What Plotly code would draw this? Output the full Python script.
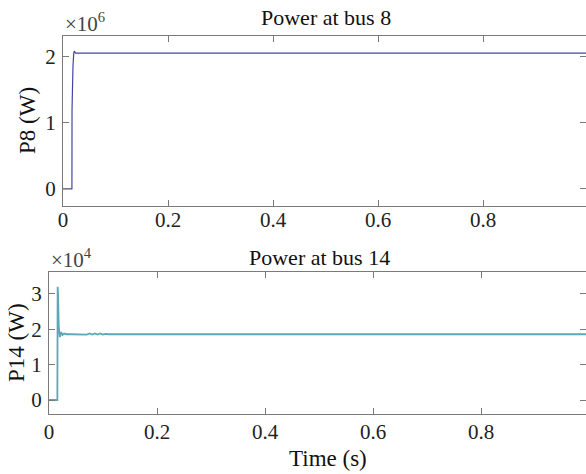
import plotly.graph_objects as go

# ---- data ----
t8 = [0, 0.0170, 0.0172, 0.0178, 0.0190, 0.0205, 0.0215, 0.0240, 0.0300, 1.0]
p8 = [0, 0, 1.2e6, 1.80e6, 1.86e6, 2.06e6, 2.09e6, 2.06e6, 2.06e6, 2.06e6]

t14 = [0, 0.0155, 0.0160, 0.0168, 0.0180, 0.0200, 0.0225, 0.0250, 0.0280, 0.0330,
       0.040, 0.050, 0.060, 0.070, 0.075, 0.080, 0.085, 0.090, 0.095, 0.100,
       0.105, 0.110, 1.0]
p14 = [0, 0, 3.20e4, 3.00e4, 2.10e4, 1.78e4, 1.92e4, 1.84e4, 1.88e4, 1.86e4,
       1.86e4, 1.86e4, 1.86e4, 1.85e4, 1.88e4, 1.85e4, 1.88e4, 1.85e4, 1.88e4, 1.85e4,
       1.87e4, 1.86e4, 1.86e4]

xticks = [0, 0.2, 0.4, 0.6, 0.8]
xticklabels = ["0", "0.2", "0.4", "0.6", "0.8"]
y8ticks = [0, 1e6, 2e6]
y8labels = ["0", "1", "2"]
y14ticks = [0, 1e4, 2e4, 3e4]
y14labels = ["0", "1", "2", "3"]

W, H = 586, 474
FONT = "Liberation Serif"
AX = "#7a7a7a"

# pixel layout
top_l, top_t, top_b = 63, 36, 206
bot_l, bot_t, bot_b = 49, 272, 414
top_px_per_unit = 525.0
bot_px_per_unit = 540.0

fig = go.Figure()
fig.add_trace(go.Scatter(x=t8, y=p8, mode="lines", xaxis="x", yaxis="y",
                         line=dict(color="#4545a0", width=1.2), showlegend=False))
fig.add_trace(go.Scatter(x=t8, y=p8, mode="lines", xaxis="x", yaxis="y3",
                         line=dict(width=0), opacity=0, showlegend=False, hoverinfo="skip"))
fig.add_trace(go.Scatter(x=t14, y=p14, mode="lines", xaxis="x2", yaxis="y2",
                         line=dict(color="#5ba8b6", width=1.8), showlegend=False))
fig.add_trace(go.Scatter(x=t14, y=p14, mode="lines", xaxis="x2", yaxis="y4",
                         line=dict(width=0), opacity=0, showlegend=False, hoverinfo="skip"))

tickfont = dict(family=FONT, size=21, color="#222222")

def xax(dom, rng, anchor, standoff):
    return dict(domain=dom, range=rng, anchor=anchor, tickvals=xticks, ticktext=xticklabels,
                ticks="inside", ticklen=6, tickcolor=AX, showline=True, linecolor=AX,
                linewidth=1, mirror="ticks", showgrid=False, zeroline=False,
                tickfont=tickfont, ticklabelstandoff=standoff, automargin=False)

def yax(dom, rng, anchor, tv, tt):
    return dict(domain=dom, range=rng, anchor=anchor, tickvals=tv, ticktext=tt,
                ticks="inside", ticklen=6, tickcolor=AX, showline=True, linecolor=AX,
                linewidth=1, mirror=False, showgrid=False, zeroline=False,
                tickfont=tickfont, ticklabelstandoff=2, automargin=False)

def yright(over, rng, anchor, tv):
    return dict(overlaying=over, side="right", range=rng, anchor=anchor, tickvals=tv,
                ticks="inside", ticklen=6, tickcolor=AX, showline=False,
                showticklabels=False, showgrid=False, zeroline=False, automargin=False)

top_xr = [0, (W - top_l) / top_px_per_unit]
bot_xr = [0, (W - bot_l) / bot_px_per_unit]
top_dom_x = [top_l / W, 1]
bot_dom_x = [bot_l / W, 1]
top_dom_y = [1 - top_b / H, 1 - top_t / H]
bot_dom_y = [1 - bot_b / H, 1 - bot_t / H]

top_yr = [-0.258e6, 2.318e6]
bot_yr = [-0.396e4, 3.62e4]

fig.update_layout(
    width=W, height=H, margin=dict(l=0, r=0, t=0, b=0, pad=0), autosize=False,
    paper_bgcolor="white", plot_bgcolor="white",
    font=dict(family=FONT, color="#111111"),
    xaxis=xax(top_dom_x, top_xr, "y", -5),
    yaxis=yax(top_dom_y, top_yr, "x", y8ticks, y8labels),
    xaxis2=xax(bot_dom_x, bot_xr, "y2", -1),
    yaxis2=yax(bot_dom_y, bot_yr, "x2", y14ticks, y14labels),
    yaxis3=yright("y", top_yr, "x", y8ticks),
    yaxis4=yright("y2", bot_yr, "x2", y14ticks),
)

ann_font = dict(family=FONT, size=22, color="#111111")
lab_font = dict(family=FONT, size=23, color="#111111")
fig.add_annotation(text="Power at bus 8", x=326 / W, y=1 - 18 / H, xref="paper", yref="paper",
                   showarrow=False, font=ann_font, xanchor="center", yanchor="middle")
fig.add_annotation(text="Power at bus 14", x=319 / W, y=1 - 257 / H, xref="paper", yref="paper",
                   showarrow=False, font=ann_font, xanchor="center", yanchor="middle")
fig.add_annotation(text="Time (s)", x=328 / W, y=1 - 458 / H, xref="paper", yref="paper",
                   showarrow=False, font=lab_font, xanchor="center", yanchor="middle")
fig.add_annotation(text="P8 (W)", x=27 / W, y=1 - 121 / H, xref="paper", yref="paper",
                   showarrow=False, font=lab_font, textangle=-90, xanchor="center", yanchor="middle")
fig.add_annotation(text="P14 (W)", x=16 / W, y=1 - 343 / H, xref="paper", yref="paper",
                   showarrow=False, font=lab_font, textangle=-90, xanchor="center", yanchor="middle")
fig.add_annotation(text="×10<sup>6</sup>", x=63 / W, y=1 - 38 / H, xref="paper", yref="paper",
                   showarrow=False, font=dict(family=FONT, size=21, color="#444444"),
                   xanchor="left", yanchor="bottom")
fig.add_annotation(text="×10<sup>4</sup>", x=49 / W, y=1 - 274 / H, xref="paper", yref="paper",
                   showarrow=False, font=dict(family=FONT, size=21, color="#444444"),
                   xanchor="left", yanchor="bottom")

fig.write_html("out.html")
